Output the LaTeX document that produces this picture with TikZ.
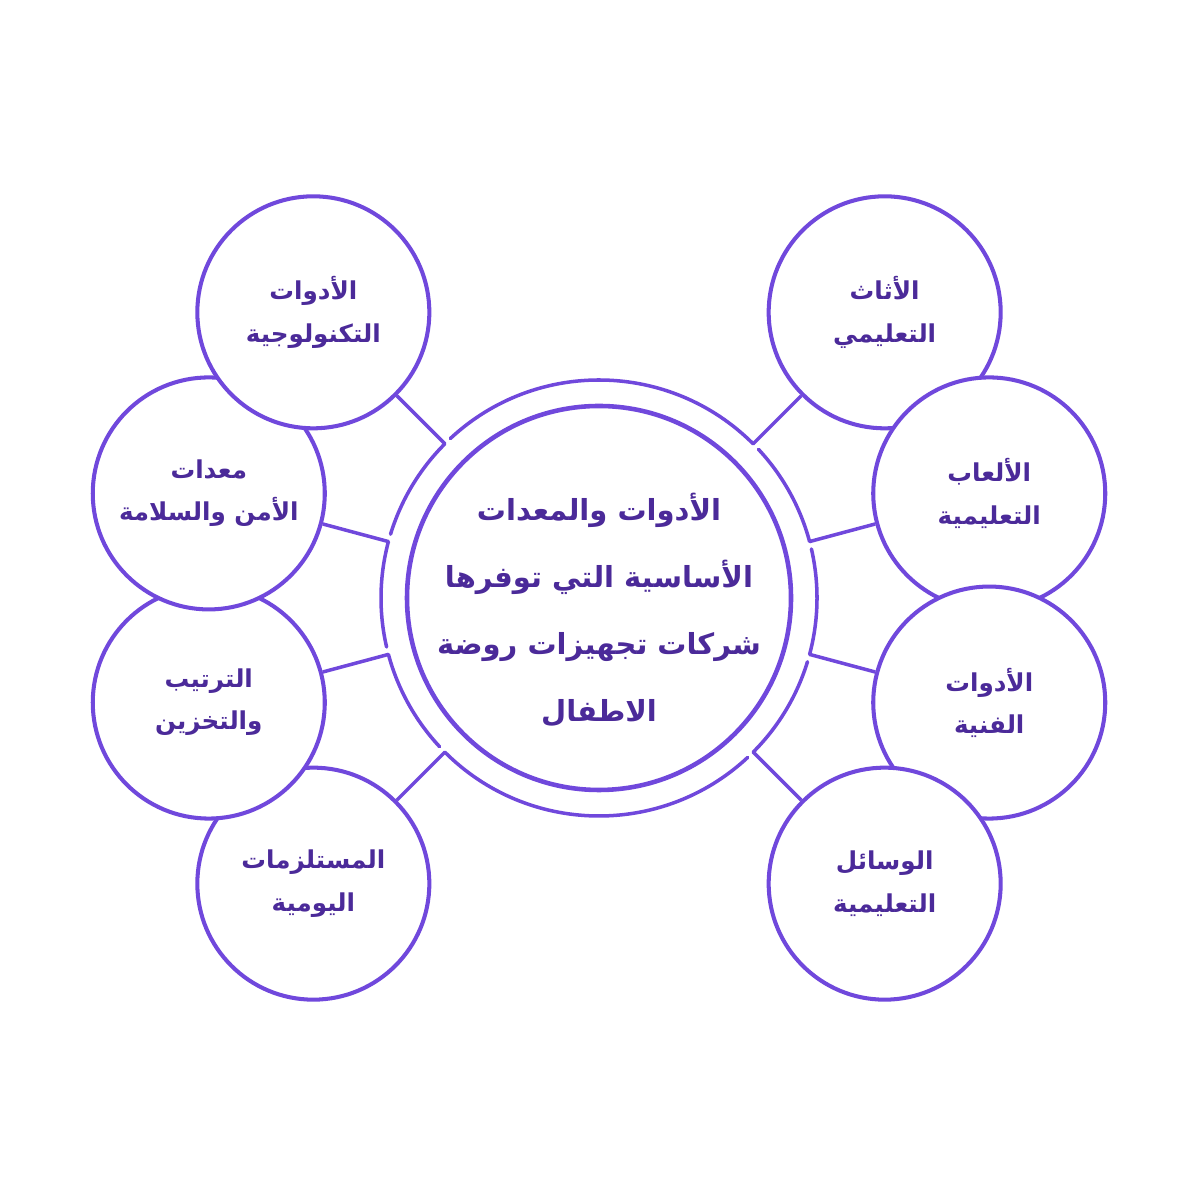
\documentclass[tikz,border=0pt]{standalone}
\usepackage{fontspec}
\usepackage{tikz}
\TeXXeTstate=1
\newfontfamily\arabicfont[Script=Arabic]{DejaVu Sans}
\definecolor{ringpurple}{HTML}{7048DC}
\definecolor{textpurple}{HTML}{4B2A99}
\newcommand{\rl}[1]{\beginR#1\endR}

\begin{document}
\begin{tikzpicture}[every node/.style={text=textpurple}]
  \tikzstyle{hubcircle} = [circle, draw=ringpurple, line width=2.6pt, fill=white, minimum size=7.68cm]
  \tikzstyle{title} = [align=center, font=\arabicfont\bfseries\fontsize{16.5}{38}\selectfont]
  \tikzstyle{item} = [circle, draw=ringpurple, line width=2.3pt, fill=white, minimum size=4.64cm,
                      inner sep=0pt, align=center, font=\arabicfont\bfseries\fontsize{14}{24}\selectfont]
  \tikzstyle{ringline} = [draw=ringpurple, line width=2pt, line cap=round]
  \tikzstyle{link} = [draw=ringpurple, line width=2pt]
  \useasboundingbox (0,0) rectangle (24,24);
  \node (hub) [hubcircle] at (11.98,12.04) {};
  \node (ring) [circle, minimum size=8.72cm, inner sep=0pt, outer sep=0pt] at (hub) {};
  \node (title) [title] at ([yshift=-0.24cm]hub.center) {\rl{الأدوات والمعدات}\\ \rl{الأساسية التي توفرها}\\ \rl{شركات تجهيزات روضة}\\ \rl{الاطفال}};
  % left side, lowest circle first
  \node (daily) [item] at ([shift={(225:8.08)}]hub.center) {\rl{المستلزمات}\\ \rl{اليومية}};
  \node (storage) [item] at ([shift={(195:8.08)}]hub.center) {\rl{الترتيب}\\ \rl{والتخزين}};
  \node (safety) [item] at ([shift={(165:8.08)}]hub.center) {\rl{معدات}\\ \rl{الأمن والسلامة}};
  \node (tech) [item] at ([shift={(135:8.08)}]hub.center) {\rl{الأدوات}\\ \rl{التكنولوجية}};
  % right side, top circle first
  \node (furniture) [item] at ([shift={(45:8.08)}]hub.center) {\rl{الأثاث}\\ \rl{التعليمي}};
  \node (games) [item] at ([shift={(15:8.08)}]hub.center) {\rl{الألعاب}\\ \rl{التعليمية}};
  \node (arts) [item] at ([shift={(-15:8.08)}]hub.center) {\rl{الأدوات}\\ \rl{الفنية}};
  \node (aids) [item] at ([shift={(-45:8.08)}]hub.center) {\rl{الوسائل}\\ \rl{التعليمية}};
  % outer ring, broken next to each link
  \foreach \a/\b in {15/43, 45/133, 135/163, 165/193, 195/223, 225/313, 315/343, 345/373}
    \draw [ringline] ([shift={(\a:4.36)}]hub.center) arc[start angle=\a, end angle=\b, radius=4.36];
  \foreach \n in {tech, safety, storage, daily, furniture, games, arts, aids}
    \draw [link] (\n) -- (ring);
\end{tikzpicture}
\end{document}
